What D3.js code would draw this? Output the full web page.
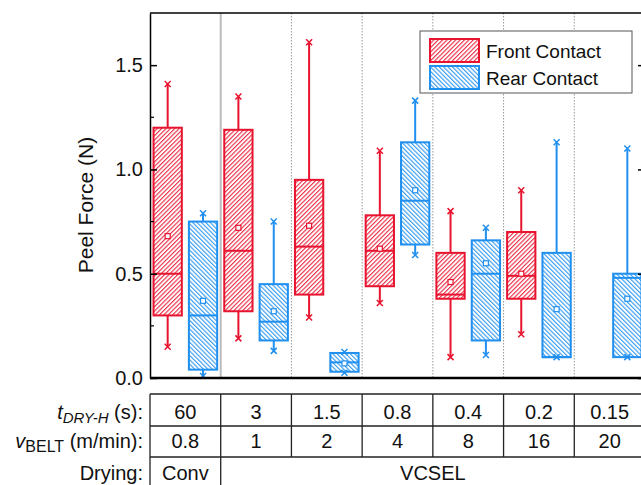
<!DOCTYPE html>
<html>
<head>
<meta charset="utf-8">
<script src="https://cdn.jsdelivr.net/npm/d3@7"></script>
<style>
  body { margin: 0; background: #fff; }
  svg text { font-family: "Liberation Sans", Arial, sans-serif; fill: #111; }
</style>
</head>
<body>
<div id="chart"></div>
<script>
// drying time / belt speed per group
const tDry = ["60", "3", "1.5", "0.8", "0.4", "0.2", "0.15"];
const vBelt = ["0.8", "1", "2", "4", "8", "16", "20"];
const drying = [{ label: "Conv", from: 0, to: 0 }, { label: "VCSEL", from: 1, to: 6 }];
const series = ["Front Contact", "Rear Contact"];
const yTicks = [0, 0.5, 1.0, 1.5];
const yMinor = [0.25, 0.75, 1.25];

// front contact box stats (null = no data)
const frontMin  = [0.15, 0.19, 0.29, 0.36, 0.10, 0.21, null];
const frontQ1   = [0.30, 0.32, 0.40, 0.44, 0.38, 0.38, null];
const frontMed  = [0.50, 0.61, 0.63, 0.61, 0.40, 0.49, null];
const frontQ3   = [1.20, 1.19, 0.95, 0.78, 0.60, 0.70, null];
const frontMax  = [1.41, 1.35, 1.61, 1.09, 0.80, 0.90, null];
const frontMean = [0.68, 0.72, 0.73, 0.62, 0.46, 0.50, null];

// rear contact box stats
const rearMin  = [0.01, 0.13, 0.025, 0.59, 0.11, 0.10, 0.10];
const rearQ1   = [0.04, 0.18, 0.03, 0.64, 0.18, 0.10, 0.10];
const rearMed  = [0.30, 0.27, 0.075, 0.85, 0.50, 0.10, 0.48];
const rearQ3   = [0.75, 0.45, 0.12, 1.13, 0.66, 0.60, 0.50];
const rearMax  = [0.79, 0.75, 0.125, 1.33, 0.72, 1.13, 1.10];
const rearMean = [0.37, 0.32, 0.07, 0.90, 0.55, 0.33, 0.38];

const colors = ["#e8132e", "#1f8ff0"];

const W = 641, H = 485;
const margin = { left: 150, right: -4, top: 13, bottom: 107 };
const plotBottom = H - margin.bottom;

const svg = d3.select("#chart").append("svg")
  .attr("width", W).attr("height", H);

const defs = svg.append("defs");
[["hatchFront", 45, colors[0]], ["hatchRear", -45, colors[1]]].forEach(function(p) {
  const pat = defs.append("pattern")
    .attr("id", p[0])
    .attr("patternUnits", "userSpaceOnUse")
    .attr("width", 3.1).attr("height", 3.1)
    .attr("patternTransform", "rotate(" + p[1] + ")");
  pat.append("rect").attr("width", 3.1).attr("height", 3.1).attr("fill", "#fff");
  pat.append("line")
    .attr("x1", 0.6).attr("x2", 0.6).attr("y1", 0).attr("y2", 3.1)
    .attr("stroke", p[2]).attr("stroke-width", 1);
});

const x = d3.scaleBand()
  .domain(tDry)
  .range([margin.left, W - margin.right])
  .padding(0);

const xIn = d3.scaleBand()
  .domain(series)
  .range([0, x.bandwidth()]);

const y = d3.scaleLinear()
  .domain([0, 1.75])
  .range([plotBottom, margin.top]);

const boxW = xIn.bandwidth() * 0.8;

// group separators
tDry.slice(1).forEach(function(t, i) {
  svg.append("line")
    .attr("x1", x(t)).attr("x2", x(t))
    .attr("y1", margin.top).attr("y2", plotBottom)
    .attr("stroke", i === 0 ? "#bbb" : "#999")
    .attr("stroke-width", i === 0 ? 2 : 1)
    .attr("stroke-dasharray", i === 0 ? null : "1.5,1.5");
});

const stats = [
  { min: frontMin, q1: frontQ1, med: frontMed, q3: frontQ3, max: frontMax, mean: frontMean, hatch: "url(#hatchFront)" },
  { min: rearMin, q1: rearQ1, med: rearMed, q3: rearQ3, max: rearMax, mean: rearMean, hatch: "url(#hatchRear)" }
];

stats.forEach(function(s, si) {
  const col = colors[si];
  const g = svg.append("g");
  tDry.forEach(function(t, i) {
    if (s.med[i] === null) return;
    const cx = x(t) + xIn(series[si]) + xIn.bandwidth() / 2;
    // whiskers
    g.append("line")
      .attr("x1", cx).attr("x2", cx)
      .attr("y1", y(s.max[i])).attr("y2", y(s.min[i]))
      .attr("stroke", col).attr("stroke-width", 2);
    // box
    g.append("rect")
      .attr("x", cx - boxW / 2).attr("width", boxW)
      .attr("y", y(s.q3[i])).attr("height", y(s.q1[i]) - y(s.q3[i]))
      .attr("fill", s.hatch)
      .attr("stroke", col).attr("stroke-width", 2);
    // median
    g.append("line")
      .attr("x1", cx - boxW / 2).attr("x2", cx + boxW / 2)
      .attr("y1", y(s.med[i])).attr("y2", y(s.med[i]))
      .attr("stroke", col).attr("stroke-width", 2);
    // mean
    g.append("rect")
      .attr("x", cx - 2.5).attr("y", y(s.mean[i]) - 2.5)
      .attr("width", 5).attr("height", 5)
      .attr("fill", "#fff").attr("stroke", col).attr("stroke-width", 1.2);
    // min / max markers
    [s.min[i], s.max[i]].forEach(function(v) {
      const yy = y(v);
      g.append("path")
        .attr("d", "M" + (cx - 3) + "," + (yy - 3) + "L" + (cx + 3) + "," + (yy + 3) +
          "M" + (cx + 3) + "," + (yy - 3) + "L" + (cx - 3) + "," + (yy + 3))
        .attr("stroke", col).attr("stroke-width", 1.5);
    });
  });
});

// frame
svg.append("line")
  .attr("x1", margin.left).attr("x2", W - margin.right)
  .attr("y1", margin.top).attr("y2", margin.top)
  .attr("stroke", "#000").attr("stroke-width", 1.5);
svg.append("line")
  .attr("x1", margin.left).attr("x2", W - margin.right)
  .attr("y1", plotBottom).attr("y2", plotBottom)
  .attr("stroke", "#000").attr("stroke-width", 2.5);

// left axis (ticks inward)
const yAxis = d3.axisLeft(y).tickValues(yTicks).tickFormat(d3.format(".1f")).tickSizeInner(-7).tickSizeOuter(0).tickPadding(7);
const yAx = svg.append("g")
  .attr("transform", "translate(" + margin.left + ",0)")
  .call(yAxis);
yAx.select(".domain").attr("stroke-width", 1.5);
yAx.selectAll(".tick line").attr("stroke-width", 1.5);
yAx.selectAll("text").attr("font-size", 20).style("font-family", "Liberation Sans, Arial, sans-serif");
yMinor.forEach(function(v) {
  svg.append("line")
    .attr("x1", margin.left).attr("x2", margin.left + 4)
    .attr("y1", y(v)).attr("y2", y(v))
    .attr("stroke", "#000").attr("stroke-width", 1.2);
});

// right axis (ticks inward, labels hidden)
const yAxisR = d3.axisRight(y).tickValues(yTicks).tickFormat("").tickSizeInner(-7).tickSizeOuter(0);
svg.append("g")
  .attr("transform", "translate(" + (W - margin.right) + ",0)")
  .call(yAxisR)
  .selectAll("line").attr("stroke-width", 1.5);

svg.append("text")
  .attr("transform", "translate(93,205) rotate(-90)")
  .attr("text-anchor", "middle")
  .attr("font-size", 21)
  .text("Peel Force (N)");

// legend
const lg = svg.append("g").attr("transform", "translate(420,31)");
lg.append("rect")
  .attr("width", 212).attr("height", 62)
  .attr("fill", "#fff").attr("stroke", "#555").attr("stroke-width", 1);
series.forEach(function(sname, i) {
  lg.append("rect")
    .attr("x", 10).attr("y", 8 + i * 27)
    .attr("width", 49).attr("height", 23)
    .attr("fill", stats[i].hatch)
    .attr("stroke", colors[i]).attr("stroke-width", 2);
  lg.append("text")
    .attr("x", 66).attr("y", 27 + i * 27)
    .attr("font-size", 19)
    .text(sname);
});

// table below the plot
const rowTop = [394, 426, 457];
const rowBase = [419, 448, 480];
const tbl = svg.append("g");
const tblRight = W - margin.right;
rowTop.forEach(function(yy) {
  tbl.append("line")
    .attr("x1", margin.left).attr("x2", tblRight)
    .attr("y1", yy).attr("y2", yy)
    .attr("stroke", "#222").attr("stroke-width", 1.3);
});
tDry.forEach(function(t) {
  tbl.append("line")
    .attr("x1", x(t)).attr("x2", x(t))
    .attr("y1", rowTop[0]).attr("y2", rowTop[2])
    .attr("stroke", "#222").attr("stroke-width", 1.3);
});
drying.forEach(function(d) {
  tbl.append("line")
    .attr("x1", x(tDry[d.from])).attr("x2", x(tDry[d.from]))
    .attr("y1", rowTop[2]).attr("y2", H)
    .attr("stroke", "#222").attr("stroke-width", 1.3);
});

function cellText(label, cx, yy) {
  tbl.append("text")
    .attr("x", cx).attr("y", yy)
    .attr("text-anchor", "middle")
    .attr("font-size", 20)
    .text(label);
}
tDry.forEach(function(t) { cellText(t, x(t) + x.bandwidth() / 2, rowBase[0]); });
vBelt.forEach(function(v, i) { cellText(v, x(tDry[i]) + x.bandwidth() / 2, rowBase[1]); });
drying.forEach(function(d) {
  const x0 = x(tDry[d.from]), x1 = x(tDry[d.to]) + x.bandwidth();
  cellText(d.label, (x0 + x1) / 2, rowBase[2]);
});

// row labels
const lab1 = tbl.append("text").attr("x", 143).attr("y", rowBase[0])
  .attr("text-anchor", "end").attr("font-size", 20);
lab1.append("tspan").attr("font-style", "italic").text("t");
lab1.append("tspan").attr("font-style", "italic").attr("font-size", 15).attr("dy", 4).text("DRY-H");
lab1.append("tspan").attr("dy", -4).text(" (s):");

const lab2 = tbl.append("text").attr("x", 143).attr("y", rowBase[1])
  .attr("text-anchor", "end").attr("font-size", 20);
lab2.append("tspan").attr("font-style", "italic").text("v");
lab2.append("tspan").attr("font-size", 16).attr("dy", 4).text("BELT");
lab2.append("tspan").attr("dy", -4).text(" (m/min):");

tbl.append("text").attr("x", 143).attr("y", rowBase[2])
  .attr("text-anchor", "end").attr("font-size", 20)
  .text("Drying:");
</script>
</body>
</html>
